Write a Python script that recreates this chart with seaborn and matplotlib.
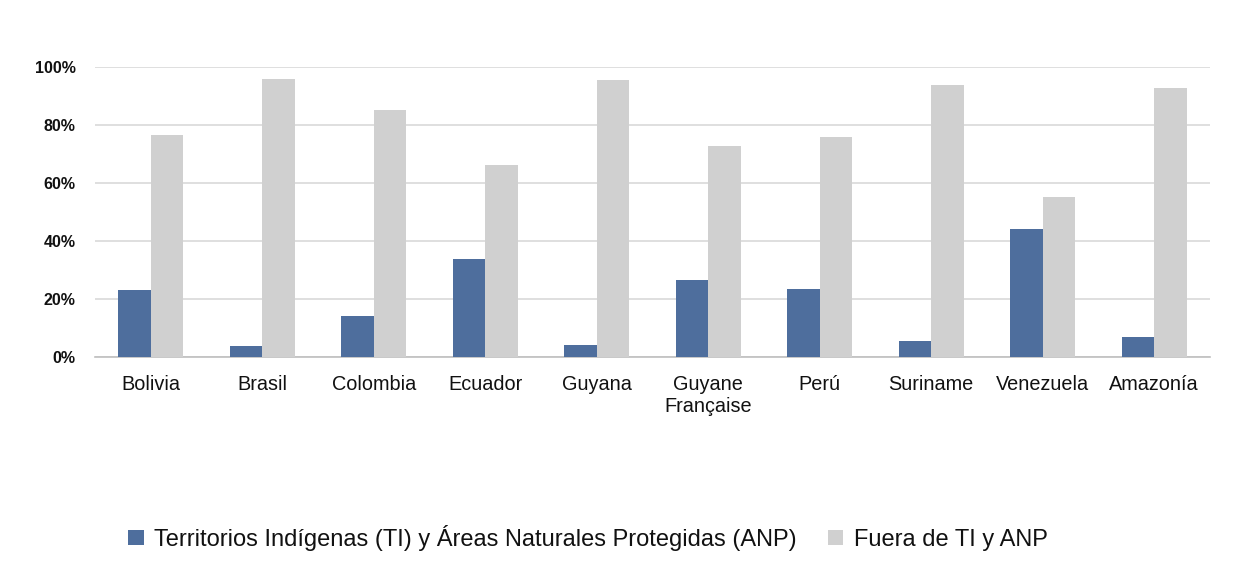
import matplotlib
matplotlib.use('Agg')
import matplotlib.pyplot as plt
from matplotlib.ticker import PercentFormatter
import seaborn as sns
import pandas as pd

# datos
paises = ['Bolivia', 'Brasil', 'Colombia', 'Ecuador', 'Guyana', 'Guyane\nFrançaise',
          'Perú', 'Suriname', 'Venezuela', 'Amazonía']
ti_anp = [23.2, 3.9, 14.3, 33.7, 4.0, 26.6, 23.5, 5.6, 44.3, 6.8]
fuera = [76.7, 95.8, 85.1, 66.1, 95.4, 72.8, 75.9, 93.9, 55.3, 92.8]
series = ['Territorios Indígenas (TI) y Áreas Naturales Protegidas (ANP)', 'Fuera de TI y ANP']
colores = ['#4E6E9D', '#D0D0D0']

df = pd.DataFrame({
    'pais': paises * 2,
    'valor': ti_anp + fuera,
    'serie': [series[0]] * len(paises) + [series[1]] * len(paises),
})

sns.set_style('white')
plt.rcParams['font.family'] = ['Liberation Sans', 'DejaVu Sans']
plt.rcParams['text.color'] = '#111111'
plt.rcParams['xtick.color'] = '#111111'
plt.rcParams['ytick.color'] = '#111111'

fig = plt.figure(figsize=(12.38, 5.7), dpi=100)
ax = fig.add_axes([95 / 1238, 1 - 357 / 570, (1210 - 95) / 1238, (357 - 67) / 570])

sns.barplot(data=df, x='pais', y='valor', hue='serie', palette=colores,
            width=0.58, saturation=1, linewidth=0, ax=ax, zorder=3)

ax.set_ylim(0, 100)
ax.set_xlim(-0.5, len(paises) - 0.5)
ax.set_yticks([0, 20, 40, 60, 80, 100])
ax.yaxis.set_major_formatter(PercentFormatter(decimals=0))
ax.grid(axis='y', color='#D9D9D9', linewidth=1.2, zorder=0)
ax.set_xlabel('')
ax.set_ylabel('')
for s in ['left', 'right', 'top']:
    ax.spines[s].set_visible(False)
ax.spines['bottom'].set_color('#BFBFBF')
ax.spines['bottom'].set_linewidth(1.2)
ax.tick_params(axis='x', length=0, labelsize=14.3, pad=13)
ax.tick_params(axis='y', length=0, labelsize=11.5, pad=14)
for t in ax.get_yticklabels():
    t.set_fontweight('bold')

ax.legend(loc='center', bbox_to_anchor=(588 / 1238, 1 - 538 / 570),
          bbox_transform=fig.transFigure, ncol=2, frameon=False,
          fontsize=17, handlelength=0.65, handleheight=0.62,
          handletextpad=0.45, columnspacing=1.3)

fig.savefig('out.png', dpi=100)
